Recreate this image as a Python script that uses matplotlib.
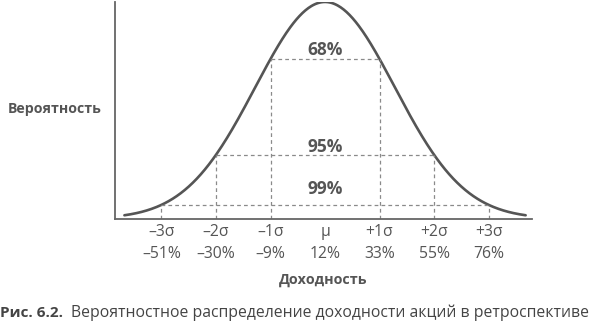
import numpy as np
from matplotlib import pyplot as plt

# data, in units of sigma
sigmas = [-3, -2, -1, 0, 1, 2, 3]
sigma_labels = ["–3σ", "–2σ", "–1σ", "μ", "+1σ", "+2σ", "+3σ"]
return_labels = ["–51%", "–30%", "–9%", "12%", "33%", "55%", "76%"]
bands = [1, 2, 3]
band_labels = ["68%", "95%", "99%"]
curve_width = 1.28   # spread of the drawn bell, in sigma units

plt.rcParams['font.family'] = ['Open Sans', 'DejaVu Sans']

def bell(x):
    return np.exp(-0.5 * (np.asarray(x) / curve_width) ** 2)

fig = plt.figure(figsize=(6, 3.26), dpi=100)
ax = fig.add_axes([0.191, 0.329, 0.696, 0.665])

x = np.linspace(-3.68, 3.68, 400)
ax.plot(x, bell(x), color="#555555", lw=1.9, solid_capstyle="round")

dash = dict(color="#8a8a8a", lw=0.9, ls=(0, (3, 2.5)))
for k in bands:
    h = bell(k)
    ax.plot([-k, k], [h, h], **dash)
    ax.plot([-k, -k], [0, h], **dash)
    ax.plot([k, k], [0, h], **dash)

label_y = [0.78, 0.33, 0.135]
for k, lab, ly in zip(bands, band_labels, label_y):
    ax.text(0, ly, lab, ha="center", va="center", fontsize=12.5,
            fontweight="bold", color="#555555")

ax.set_xlim(-3.86, 3.80)
ax.set_ylim(0, 1.0)
ax.set_yticks([])
ax.set_xticks(sigmas)
ax.set_xticklabels([s + "\n" + r for s, r in zip(sigma_labels, return_labels)],
                   fontsize=11.3, color="#555555", linespacing=1.52)
ax.tick_params(axis="x", length=0, pad=3.5)

for side in ["top", "right"]:
    ax.spines[side].set_visible(False)
for side in ["left", "bottom"]:
    ax.spines[side].set_color("#666666")
    ax.spines[side].set_linewidth(1.3)

fig.text(0.013, 0.665, "Вероятность", fontsize=10.2, fontweight="bold",
         color="#555555", va="center", ha="left")
fig.text(0.538, 0.14, "Доходность", fontsize=10.3, fontweight="bold",
         color="#555555", va="center", ha="center")

fig.text(0.0, 0.04, "Рис. 6.2.", fontsize=11, fontweight="bold",
         color="#444444", va="center", ha="left")
fig.text(0.118, 0.04, "Вероятностное распределение доходности акций в ретроспективе",
         fontsize=11.3, color="#444444", va="center", ha="left")

fig.savefig("out.png", dpi=100)
